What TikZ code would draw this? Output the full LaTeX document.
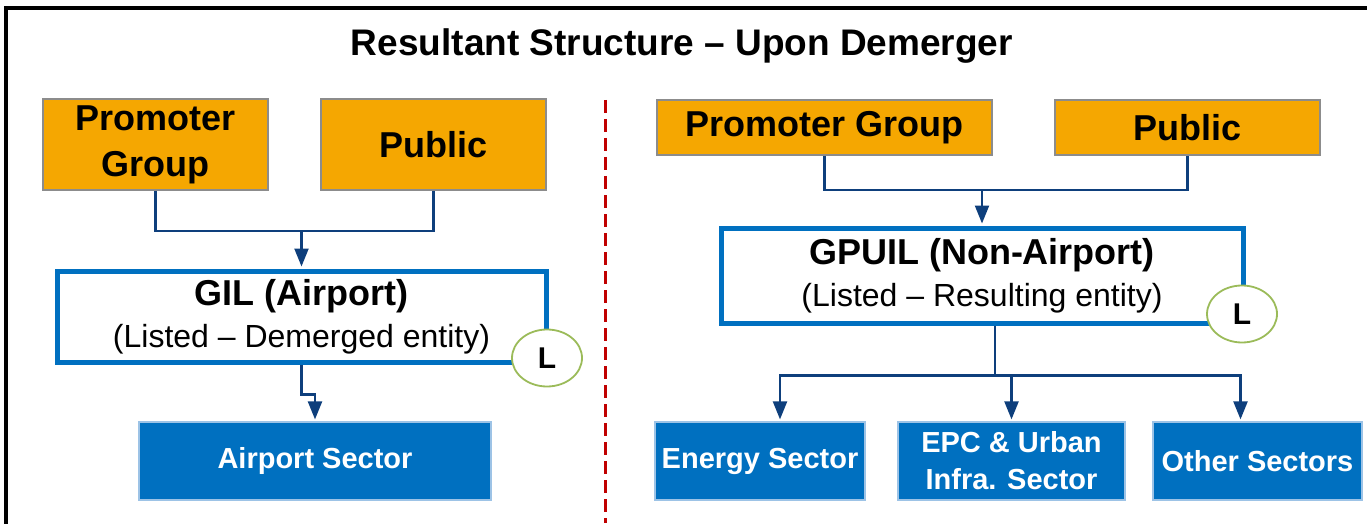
\documentclass[tikz,border=0pt]{standalone}
\usepackage{fontspec}
\setmainfont{Liberation Sans}
\usetikzlibrary{arrows.meta,positioning,shapes.geometric}
\definecolor{orng}{HTML}{F5A701}
\definecolor{bordgray}{HTML}{8C8C8C}
\definecolor{entblue}{HTML}{0070C0}
\definecolor{secline}{HTML}{9DC3E6}
\definecolor{linkblue}{HTML}{0E3F7C}
\definecolor{lgreen}{HTML}{9BBB59}
\definecolor{divred}{HTML}{C00000}

\begin{document}
\begin{tikzpicture}[x=1pt,y=1pt,
	owner/.style={rectangle,draw=bordgray,line width=1.5pt,fill=orng,align=center,inner sep=0pt,font=\fontsize{36}{46}\selectfont\bfseries},
	entity/.style={rectangle,draw=entblue,line width=5pt,fill=white,align=center,inner sep=0pt,font=\fontsize{32}{42}\selectfont},
	sector/.style={rectangle,draw=secline,line width=1.2pt,fill=entblue,text=white,align=center,inner sep=0pt,font=\fontsize{29}{37}\selectfont\bfseries},
	listed/.style={ellipse,draw=lgreen,line width=1.8pt,fill=white,minimum width=70pt,minimum height=57pt,inner sep=0pt,font=\fontsize{30}{30}\selectfont\bfseries},
	link/.style={draw=linkblue,line width=2.2pt},
	feed/.style={link,-{Triangle[width=14pt,length=18pt]},shorten >=2pt},
	divider/.style={draw=divred,line width=3pt,dash pattern=on 13pt off 6pt}]
	\useasboundingbox (0,0) rectangle (1367,523);
	\draw[line width=4pt] (5.5,-20) |- (1400,515);
	\node (ttl) at (682,477) {\fontsize{37}{37}\selectfont\bfseries Resultant Structure -- Upon Demerger};
	\draw[divider] (605,423) -- (605,0);

	\node[owner,minimum width=225pt,minimum height=91pt] (lpg) at (155.5,378.5) {Promoter\\Group};
	\node[owner,minimum width=225pt,minimum height=91pt] (lpub) at (433.5,378.5) {Public};
	\node[entity,minimum width=489pt,minimum height=91pt] (gil) at (301.5,206.5) {\textbf{\fontsize{36}{42}\selectfont GIL (Airport)}\\(Listed -- Demerged entity)};
	\node[listed] (gl) at (547,165) {L};
	\node[sector,minimum width=352pt,minimum height=78pt] (air) at (315,62) {Airport Sector};

	\coordinate (lj) at (gil.north |- 0,292);
	\draw[link] (lpg.south) |- (lj) -| (lpub.south);
	\draw[feed] (lj) -- (gil.north);
	\draw[feed] (gil.south) -- ++(0,-30) -| (air.north);

	\node[owner,minimum width=335pt,minimum height=55pt] (rpg) at (824.5,395.5) {Promoter Group};
	\node[owner,minimum width=265pt,minimum height=55pt] (rpub) at (1187.5,395.5) {Public};
	\node[entity,minimum width=522pt,minimum height=95pt] (gpuil) at (982,247.5) {\textbf{\fontsize{36}{40}\selectfont GPUIL (Non-Airport)}\\(Listed -- Resulting entity)};
	\node[listed] (gpl) at (1242,209) {L};
	\node[sector,minimum width=210pt,minimum height=78pt] (en) at (760,62) {Energy Sector};
	\node[sector,minimum width=227pt,minimum height=78pt] (epc) at (1011.5,62) {EPC \& Urban\\Infra. Sector};
	\node[sector,minimum width=209pt,minimum height=78pt] (oth) at (1257.5,62) {Other Sectors};

	\coordinate (rj) at (gpuil.north |- 0,333);
	\draw[link] (rpg.south) |- (rj) -| (rpub.south);
	\draw[feed] (rj) -- (gpuil.north);
	\path ([xshift=13pt]gpuil.south) ++(0,-50) coordinate (bus);
	\draw[link] ([xshift=13pt]gpuil.south) -- (bus);
	\draw[feed] (bus) -| ([xshift=20pt]en.north);
	\draw[feed] (bus) -| (epc.north);
	\draw[feed] (bus) -| ([xshift=-17pt]oth.north);
\end{tikzpicture}
\end{document}
